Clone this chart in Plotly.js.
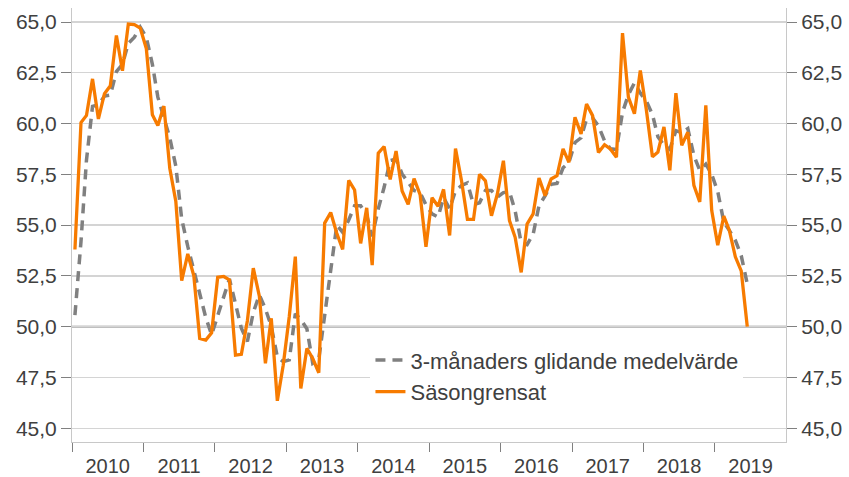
<!DOCTYPE html>
<html>
<head>
<meta charset="utf-8">
<script src="https://cdn.plot.ly/plotly-3.0.1.min.js"></script>
<style>html,body{margin:0;padding:0;background:#fff;}#chart{width:849px;height:477px;}</style>
</head>
<body>
<div id="chart"></div>
<script>
// Monthly categories: Jan 2010 .. Jun 2019
const startYear = 2010;
const monthCount = 114;
const months = [];
for (let i = 0; i < monthCount; i++) {
  const y = startYear + Math.floor(i / 12);
  const m = (i % 12) + 1;
  months.push(y + '-' + String(m).padStart(2, '0') + '-16');
}

const yearLabels = ['2010','2011','2012','2013','2014','2015','2016','2017','2018','2019'];

const seriesNames = ['3-månaders glidande medelvärde', 'Säsongrensat'];

// Säsongrensat (seasonally adjusted)
const sasongrensat = [
  53.8, 60.05, 60.4, 62.2, 60.23, 61.47, 61.86, 64.34, 62.6, 64.9, 64.87, 64.7,
  63.7, 60.43, 59.9, 60.86, 57.8, 56.16, 52.26, 53.58, 52.5, 49.42, 49.34, 49.7,
  52.43, 52.47, 52.3, 48.6, 48.64, 50.3, 52.88, 51.5, 48.19, 50.41, 46.35, 48.1,
  50.5, 53.45, 46.96, 48.93, 48.43, 47.73, 55.1, 55.62, 54.6, 53.8, 57.2, 56.73,
  54.1, 55.85, 53.03, 58.54, 58.87, 57.25, 58.65, 56.68, 56.02, 57.29, 56.5, 53.93,
  56.35, 55.93, 56.76, 54.49, 58.77, 57.17, 55.28, 55.28, 57.5, 57.18, 55.46, 56.53,
  58.17, 55.22, 54.4, 52.67, 55.05, 55.55, 57.32, 56.45, 57.27, 57.43, 58.75, 58.09,
  60.31, 59.49, 60.96, 60.39, 58.58, 58.96, 58.75, 58.34, 64.45, 61.3, 60.48, 62.61,
  60.67, 58.36, 58.6, 59.83, 57.7, 61.5, 58.93, 59.58, 56.96, 56.14, 60.9, 55.73,
  54.01, 55.44, 54.75, 53.44, 52.75, 50.0
];

// 3-month moving average
const glidandeMedel = [
  50.57, 54.2, 58.2, 60.85, 60.92, 61.35, 61.4, 62.56, 62.92, 63.95, 64.25, 64.75,
  64.25, 62.92, 61.3, 60.35, 59.3, 57.9, 55.3, 53.95, 52.75, 51.75, 50.45, 49.6,
  50.55, 51.55, 52.35, 51.13, 49.92, 49.27, 50.7, 51.57, 50.87, 50.02, 48.5, 48.28,
  48.36, 50.64, 50.35, 49.9, 48.2, 48.4, 50.5, 52.95, 55.0, 54.65, 55.25, 55.95,
  55.95, 55.5, 54.45, 55.8, 56.86, 58.18, 58.25, 57.52, 57.11, 56.7, 56.6, 56.0,
  55.55, 55.4, 56.35, 55.8, 56.7, 56.95, 57.08, 56.0, 56.1, 56.7, 56.7, 56.38,
  56.6, 56.64, 55.7, 54.12, 54.04, 54.55, 55.96, 56.44, 57.01, 57.05, 57.82, 58.09,
  59.07, 59.3, 60.22, 60.28, 59.88, 59.15, 58.76, 58.72, 60.55, 61.42, 62.0, 61.5,
  61.1, 60.45, 59.35, 58.93, 58.73, 59.65, 59.55, 59.75, 58.42, 57.7, 58.0, 57.5,
  56.65, 55.15, 54.74, 54.25, 53.5, 52.1
];

const referenceLevel = 50;

const fontFam = '"Liberation Sans", Arial, sans-serif';
const textColor = '#404040';
const yRange = [44.32, 65.69];

const traces = [
  {
    x: months, y: glidandeMedel, name: seriesNames[0],
    type: 'scatter', mode: 'lines', xaxis: 'x', yaxis: 'y',
    line: {color: '#808080', width: 3.5, dash: '10px,7px'},
    hoverinfo: 'skip'
  },
  {
    x: months, y: sasongrensat, name: seriesNames[1],
    type: 'scatter', mode: 'lines', xaxis: 'x', yaxis: 'y2',
    line: {color: '#F77B00', width: 3.3},
    hoverinfo: 'skip'
  }
];

const layout = {
  width: 849, height: 477,
  margin: {l: 72, r: 63, t: 8, b: 35, pad: 0},
  paper_bgcolor: '#ffffff', plot_bgcolor: '#ffffff',
  separators: ',.',
  font: {family: fontFam, size: 21, color: textColor},
  showlegend: true,
  legend: {
    x: 0.418, y: 0.237, xanchor: 'left', yanchor: 'top',
    bgcolor: '#ffffff', borderwidth: 0,
    font: {family: fontFam, size: 22, color: textColor},
    itemwidth: 30, tracegroupgap: 0
  },
  xaxis: {
    type: 'date',
    range: ['2010-01-01', '2019-12-31'],
    tick0: '2010-01-01', dtick: 'M12', tickformat: '%Y',
    ticklabelmode: 'period',
    ticks: 'outside', ticklen: 9, tickwidth: 1, tickcolor: '#808080',
    ticklabelstandoff: -3,
    showline: true, linecolor: '#c8c8c8', linewidth: 1,
    showgrid: false, zeroline: false,
    tickfont: {family: fontFam, size: 20, color: textColor}
  },
  yaxis: {
    range: yRange, tick0: 45, dtick: 2.5, tickformat: '.1f',
    ticks: 'outside', ticklen: 10, tickwidth: 1, tickcolor: '#808080',
    showline: true, linecolor: '#c8c8c8', linewidth: 1,
    showgrid: true, gridcolor: '#d4d4d4', gridwidth: 1.3,
    zeroline: false,
    tickfont: {family: fontFam, size: 21, color: textColor}
  },
  yaxis2: {
    overlaying: 'y', side: 'right',
    range: yRange, tick0: 45, dtick: 2.5, tickformat: '.1f',
    ticks: 'outside', ticklen: 10, tickwidth: 1, tickcolor: '#808080',
    showline: true, linecolor: '#c8c8c8', linewidth: 1,
    showgrid: false, zeroline: false,
    tickfont: {family: fontFam, size: 21, color: textColor}
  },
  shapes: [{
    type: 'line', xref: 'paper', x0: 0, x1: 1, yref: 'y', y0: referenceLevel, y1: referenceLevel,
    line: {color: '#808080', width: 1.6}, layer: 'below'
  }]
};

Plotly.newPlot('chart', traces, layout, {staticPlot: true, displayModeBar: false});
</script>
</body>
</html>
